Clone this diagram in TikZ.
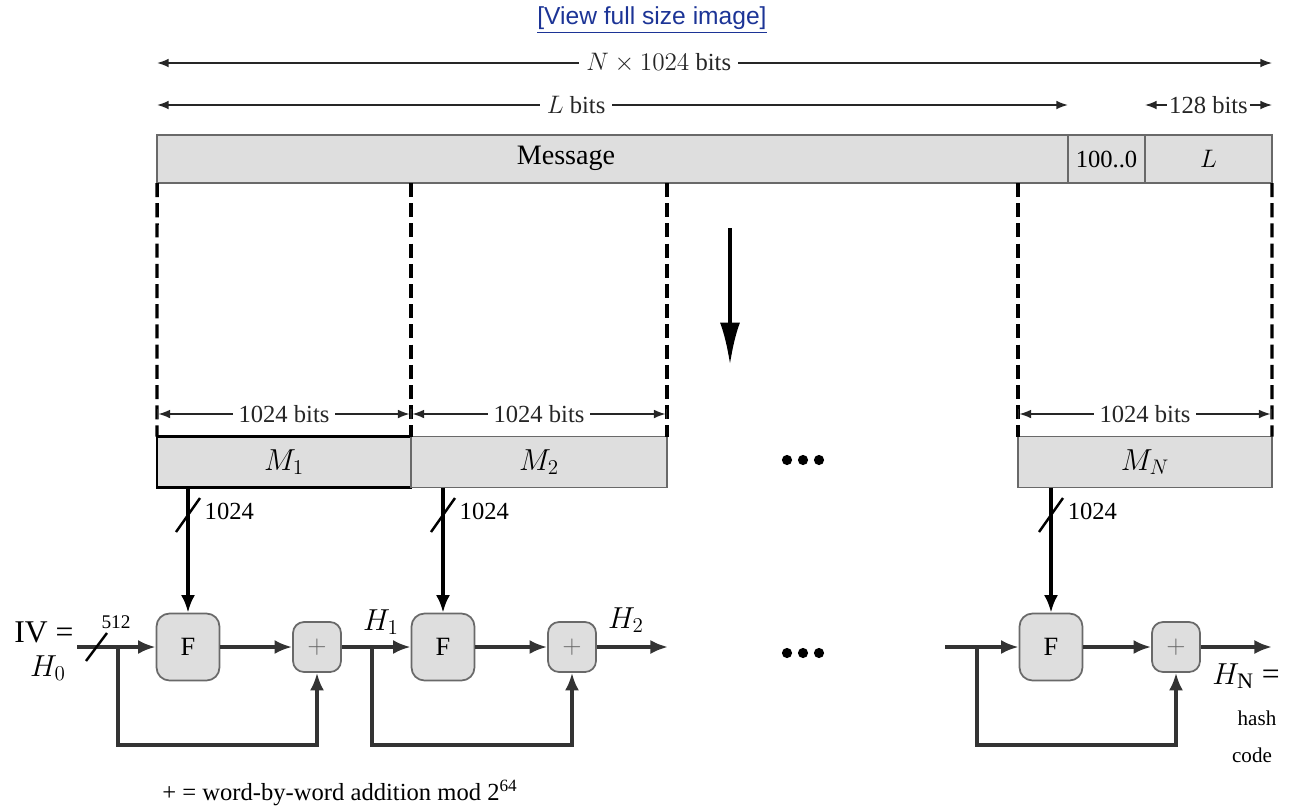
\documentclass[tikz,border=0pt]{standalone}
\usepackage{fontspec}
\setmainfont{Liberation Serif}
\newfontfamily\linkfont{Liberation Sans}
\usepackage{xcolor}
\usetikzlibrary{arrows.meta,calc,positioning}
\definecolor{boxgray}{RGB}{222,222,222}
\definecolor{edgegray}{RGB}{105,105,105}
\definecolor{linkblue}{RGB}{28,52,150}

\begin{document}
\begin{tikzpicture}[x=0.02cm,y=-0.02cm,>=Latex,
  every node/.style={font=\fontsize{14}{16}\selectfont},
  bar/.style={draw=edgegray,fill=boxgray,line width=1pt,minimum height=0.96cm,inner sep=0pt,outer sep=0pt},
  blk/.style={bar,minimum height=1.02cm,font=\fontsize{17}{19}\selectfont},
  fbox/.style={draw=edgegray,fill=boxgray,line width=1pt,rounded corners=0.26cm,minimum width=1.26cm,minimum height=1.34cm,inner sep=0pt,font=\fontsize{15}{17}\selectfont},
  pbox/.style={fbox,rounded corners=0.22cm,minimum width=0.96cm,minimum height=1cm,text=black!60},
  dim/.style={line width=0.8pt,black!85},
  cut/.style={line width=1.9pt,dash pattern=on 8pt off 3.5pt},
  flow/.style={line width=1.9pt,black!80,-{Latex[length=10pt,width=8pt]}},
  slash/.style={line width=1.4pt},
  big/.style={font=\fontsize{18}{20}\selectfont}]
  \useasboundingbox (0,0) rectangle (1289,809);
  \node[font=\linkfont\fontsize{14}{16}\selectfont,text=linkblue] (view) at (652,20) {\underline{[View full size image]}};
  % rows of the length arrows
  \coordinate (rowN) at (0,63);
  \coordinate (rowL) at (0,105);
  \coordinate (rowD) at (0,414);

  % padded message
  \node[bar,minimum width=18.22cm] (msg) at (612.5,159) {};
  \node[bar,minimum width=1.54cm] (pad) at (1106.5,159) {100..0};
  \node[bar,minimum width=2.54cm,font=\fontsize{15}{17}\selectfont] (len) at (1208.5,159) {$L$};
  \node[font=\fontsize{16}{18}\selectfont] (msgtext) at (566,158) {Message};
  \draw[dim,<->] (msg.west |- rowN) -- (len.east |- rowN) node[pos=0.45,fill=white,inner sep=4pt] {$N\times1024$ bits};
  \draw[dim,<->] (msg.west |- rowL) -- (msg.east |- rowL) node[pos=0.46,fill=white,inner sep=4pt] {$L$ bits};
  \draw[dim,<->] (len.west |- rowL) -- (len.east |- rowL) node[midway,fill=white,inner sep=1pt] {128 bits};

  % blocks
  \node[blk,minimum width=5.08cm,draw=black,line width=1.6pt] (M1) at (284,462) {$M_1$};
  \node[blk,minimum width=5.12cm] (M2) at (539,462) {$M_2$};
  \node[blk,minimum width=5.08cm] (MN) at (1145,462) {$M_N$};
  \draw[cut] (msg.south west) -- (M1.north west);
  \draw[cut] (M1.north east |- msg.south) -- (M1.north east);
  \draw[cut] (M2.north east |- msg.south) -- (M2.north east);
  \draw[cut] (MN.north west |- msg.south) -- (MN.north west);
  \draw[cut] (len.south east) -- (MN.north east);
  \foreach \blk in {M1,M2,MN}
    \draw[dim,|<->|] (\blk.west |- rowD) -- (\blk.east |- rowD) node[midway,fill=white,inner sep=3pt] {1024 bits};
  \coordinate (down0) at (730,228);
  \coordinate (down1) at (730,365);
  \draw[line width=2.4pt,-{Latex[length=0.85cm,width=0.4cm]}] (down0) -- (down1);
  \foreach \dx in {-16,0,16} {
    \fill (803+\dx,460) circle (2.9pt);
    \fill (803+\dx,653) circle (2.9pt);
  }

  % compression chain
  \node[fbox] (F1) at (188,647) {F};
  \node[pbox] (P1) at (317,647) {$+$};
  \node[fbox] (F2) at (443,647) {F};
  \node[pbox] (P2) at (572,647) {$+$};
  \node[fbox] (FN) at (1051,647) {F};
  \node[pbox] (PN) at (1176,647) {$+$};
  \foreach \blk/\f in {M1/F1,M2/F2,MN/FN} {
    \draw[flow,black] (\blk.south -| \f) -- (\f.north);
    \coordinate (s\f) at ($(\blk.south -| \f)!0.22!(\f.north)$);
    \draw[slash] (s\f) +(-12,17) -- +(12,-17) node[anchor=north west,inner sep=2pt] {1024};
  }
  \coordinate (iv) at (77,647);
  \coordinate (b1) at (118,647);
  \coordinate (b2) at (372,647);
  \coordinate (b3) at (977,647);
  \coordinate (hin) at (945,647);
  \coordinate (h2) at (668,647);
  \coordinate (hN) at (1272,647);
  \draw[flow] (iv) -- (F1);
  \draw[slash] (97,647) +(-11,14) -- +(10,-14);
  \node[font=\fontsize{11}{13}\selectfont] (w512) at (116,622) {512};
  \node[big] (ivtext) at (44,632) {IV =};
  \node[big] (h0) at (48,668) {$H_0$};
  \draw[flow] (F1) -- (P1);
  \draw[flow] (b1) -- ++(0,98) -| (P1.south);
  \draw[flow] (P1) -- (F2);
  \node[big] (h1) at (381,622) {$H_1$};
  \draw[flow] (F2) -- (P2);
  \draw[flow] (b2) -- ++(0,98) -| (P2.south);
  \draw[flow] (P2) -- (h2);
  \node[big] (h2text) at (626,620) {$H_2$};
  \draw[flow] (hin) -- (FN);
  \draw[flow] (FN) -- (PN);
  \draw[flow] (b3) -- ++(0,98) -| (PN.south);
  \draw[flow] (PN) -- (hN);
  \node[big] (hNtext) at (1246,676) {$H_{\mathrm{N}}$ =};
  \node[font=\fontsize{12}{14}\selectfont] (hash) at (1257,718) {hash};
  \node[font=\fontsize{12}{14}\selectfont] (code) at (1252,755) {code};
  \node (legend) at (340,793) {+ = word-by-word addition mod 2\textsuperscript{64}};
\end{tikzpicture}
\end{document}
